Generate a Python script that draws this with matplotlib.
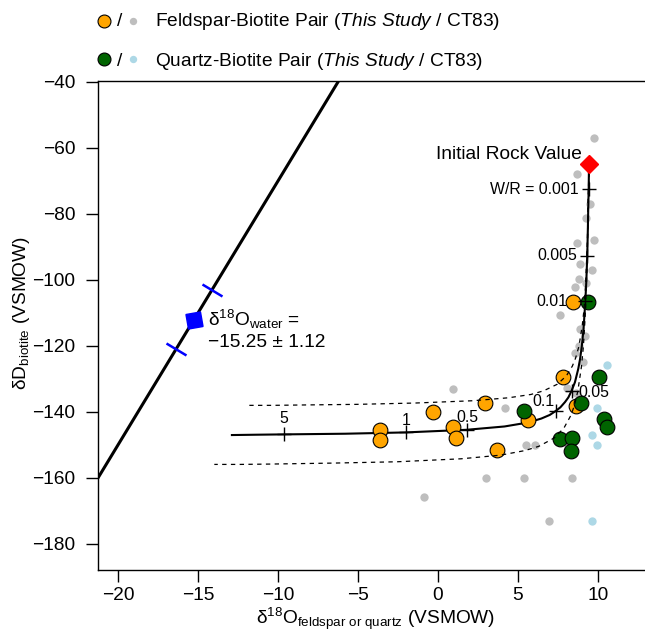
import matplotlib
matplotlib.use('Agg')
import matplotlib.pyplot as plt
from matplotlib.lines import Line2D
from matplotlib.markers import MarkerStyle
from matplotlib.transforms import Affine2D
import numpy as np

plt.rcParams['font.family'] = ['Liberation Sans', 'DejaVu Sans']
plt.rcParams['mathtext.fontset'] = 'custom'
plt.rcParams['mathtext.rm'] = 'Liberation Sans'
plt.rcParams['mathtext.it'] = 'Liberation Sans:italic'
plt.rcParams['mathtext.bf'] = 'Liberation Sans:bold'

# --- data ---
# CT83 feldspar-biotite pairs (grey)
ct_fsp_x = [9.75, 8.7, 9.5, 9.25, 8.7, 9.75, 8.85, 9.65, 8.8, 9.25, 8.55, 7.65, 8.85, 9.2,
            8.55, 9.05, 8.8, 8.05, 8.6, 0.95, 4.2, 5.5, 6.05, 3.0, 5.4, 8.35, -0.9, 6.95]
ct_fsp_d = [-57.1, -68.0, -77.1, -81.1, -88.9, -87.9, -95.2, -97.0, -99.8, -101.0, -102.0, -110.6,
            -114.8, -117.0, -122.0, -125.0, -120.0, -132.8, -134.2, -133.0, -138.9, -150.0, -150.0,
            -160.0, -160.0, -160.0, -165.8, -172.9]
# CT83 quartz-biotite pairs (light blue)
ct_qtz_x = [10.55, 9.95, 9.65, 9.95, 9.65]
ct_qtz_d = [-125.8, -138.9, -147.0, -150.0, -172.9]
# this study, feldspar-biotite (orange)
fsp_x = [-3.6, -3.6, -0.3, 2.95, 0.95, 1.1, 3.7, 5.65, 7.8, 8.65, 8.45]
fsp_d = [-145.5, -148.5, -139.9, -137.4, -144.6, -148.0, -151.6, -142.4, -129.5, -138.2, -106.6]
# this study, quartz-biotite (green)
qtz_x = [9.4, 10.05, 8.95, 5.4, 10.4, 10.55, 7.6, 8.4, 8.3]
qtz_d = [-106.6, -129.5, -137.2, -139.6, -142.2, -144.7, -148.2, -148.0, -151.8]

# initial rock value and water estimate
rock_x, rock_d = 9.44, -64.8
water_o, water_err = -15.25, 1.12
water_d, water_d_lo, water_d_hi = -112.0, -120.96, -103.04
mwl_pts = [(-20, -150), (-10, -70)]

# exchange curve (solid) and error envelope (dashed)
main_x = [9.44, 9.42, 9.39, 9.37, 9.33, 9.27, 9.21, 9.10, 8.99, 8.88, 8.77, 8.56, 8.35, 8.15,
          7.94, 7.65, 7.36, 6.99, 6.46, 5.63, 4.16, 1.81, -2.00, -5.81, -9.63, -11.36, -12.88]
main_d = [-64.8, -72.5, -78.8, -84.2, -92.7, -100.6, -106.5, -114.7, -120.1, -124.0, -126.9,
          -131.0, -133.6, -135.6, -137.0, -138.6, -139.7, -140.9, -142.0, -143.2, -144.4, -145.4,
          -146.2, -146.6, -146.8, -146.9, -147.0]
up_x = [9.44, 9.33, 9.22, 9.12, 9.01, 8.81, 8.60, 8.40, 8.02, 7.46, 6.60, 5.81, 4.42, 2.19,
        -1.44, -5.07, -8.69, -10.34, -11.79]
up_d = [-64.8, -89.7, -102.0, -109.3, -114.1, -120.1, -123.7, -126.1, -129.1, -131.6, -133.6,
        -134.7, -135.7, -136.6, -137.3, -137.7, -137.9, -138.0, -138.0]
lo_x = [9.44, 9.32, 9.20, 9.09, 8.97, 8.74, 8.52, 8.30, 7.87, 7.26, 6.31, 5.44, 3.90, 1.44,
        -2.56, -6.56, -10.56, -12.38, -13.98]
lo_d = [-64.8, -95.8, -111.1, -120.1, -126.2, -133.7, -138.2, -141.1, -144.9, -147.9, -150.4,
        -151.7, -153.1, -154.2, -155.1, -155.5, -155.8, -155.9, -155.9]

# water/rock ratio ticks along the curve
wr_labels = ['W/R = 0.001', '0.005', '0.01', '0.05', '0.1', '0.5', '1', '5']
wr_x = [9.42, 9.33, 9.21, 8.35, 7.36, 1.81, -2.0, -9.63]
wr_d = [-72.5, -92.7, -106.5, -133.6, -139.7, -145.4, -146.2, -146.8]

FS = 13.8
fig = plt.figure(figsize=(6.45, 6.32), dpi=100)
ax = fig.add_axes([98 / 645, 62 / 632, 555 / 645, 489 / 632])
ax.set_xlim(-21.25, 13.44)
ax.set_ylim(-187.9, -39.7)

ax.plot(ct_fsp_x, ct_fsp_d, ls='none', marker='o', ms=6.0, mew=0, color='#BEBEBE', zorder=2)
ax.plot(ct_qtz_x, ct_qtz_d, ls='none', marker='o', ms=6.0, mew=0, color='#ADD8E6', zorder=2)

ax.axline(mwl_pts[0], mwl_pts[1], color='black', lw=2.2, zorder=3)
ax.plot(main_x, main_d, color='black', lw=1.5, zorder=3)
ax.plot(up_x, up_d, color='black', lw=0.9, ls=(0, (3.5, 3.5)), zorder=5)
ax.plot(lo_x, lo_d, color='black', lw=0.9, ls=(0, (3.5, 3.5)), zorder=5)

ax.plot(fsp_x, fsp_d, ls='none', marker='o', ms=10.6, mfc='#FFA500', mec='black', mew=0.8, zorder=4)
ax.plot(qtz_x, qtz_d, ls='none', marker='o', ms=10.6, mfc='#006400', mec='black', mew=0.8, zorder=4)

ax.plot(wr_x, wr_d, ls='none', marker='+', ms=9.5, mew=1.0, color='black', zorder=6)
wr_offsets = [(-7.5, 0, 'right', 'center'), (-7.5, 0, 'right', 'center'),
              (-13, 0, 'right', 'center'), (5, -1, 'left', 'center'),
              (-8.5, 7, 'center', 'center'), (0, 5.5, 'center', 'baseline'),
              (0, 5.5, 'center', 'baseline'), (0, 8, 'center', 'baseline')]
for lab, x, y, (dx, dy, ha, va) in zip(wr_labels, wr_x, wr_d, wr_offsets):
    ax.annotate(lab, (x, y), xytext=(dx, dy), textcoords='offset points',
                ha=ha, va=va, fontsize=11.4, zorder=7)

ax.plot([rock_x], [rock_d], ls='none', marker='D', ms=9.5, color='red', zorder=8)
ax.annotate('Initial Rock Value', (rock_x, rock_d), xytext=(-5, 3.4),
            textcoords='offset points', ha='right', va='baseline', fontsize=FS)

# water estimate on the meteoric water line
p1 = ax.transData.transform(mwl_pts[0])
p2 = ax.transData.transform(mwl_pts[1])
ang = np.degrees(np.arctan2(p2[1] - p1[1], p2[0] - p1[0]))
tick = MarkerStyle('_', transform=Affine2D().rotate_deg(ang - 90))
ax.plot([water_o - water_err, water_o + water_err], [water_d_lo, water_d_hi], ls='none',
        marker=tick, ms=17, mew=1.8, color='blue', zorder=6)
ax.plot([water_o], [water_d], ls='none', marker=(4, 0, -35), ms=15, color='blue', zorder=6)
ax.annotate('δ$^{18}$O$_{\\mathrm{water}}$ =', (water_o, water_d), xytext=(10, -4.3),
            textcoords='offset points', ha='left', va='baseline', fontsize=FS)
ax.annotate('\u221215.25 \u00b1 1.12', (water_o, water_d), xytext=(10, -20),
            textcoords='offset points', ha='left', va='baseline', fontsize=FS)

ax.set_xticks([-20, -15, -10, -5, 0, 5, 10])
ax.set_yticks(np.arange(-180, -39, 20))
ax.tick_params(direction='out', length=8.3, width=1.0, labelsize=FS)
ax.tick_params(axis='x', pad=4)
ax.tick_params(axis='y', pad=8)
for s in ax.spines.values():
    s.set_linewidth(1.0)

ax.set_xlabel('δ$^{18}$O$_{\\mathrm{feldspar\\ or\\ quartz}}$ (VSMOW)', fontsize=FS)
ax.set_ylabel('δD$_{\\mathrm{biotite}}$ (VSMOW)', fontsize=FS)
ax.xaxis.set_label_coords((375.6 - 98) / 555, -(624 - 570) / 489)
ax.xaxis.label.set_va('baseline')
ax.yaxis.set_label_coords((21 - 98) / 555, (570 - 313) / 489)
ax.yaxis.label.set_va('center')

# legend drawn above the axes
rows = [('#FFA500', '#BEBEBE', 'Feldspar-Biotite Pair ($\\it{This\\ Study}$ / CT83)'),
        ('#006400', '#ADD8E6', 'Quartz-Biotite Pair ($\\it{This\\ Study}$ / CT83)')]
for (big, small, text), ym, yb in zip(rows, [20.7, 59.3], [26.5, 65.5]):
    yf = 1 - ym / 632
    fig.add_artist(Line2D([104.3 / 645], [yf], transform=fig.transFigure, ls='none', marker='o',
                          ms=9.3, mfc=big, mec='black', mew=0.8))
    fig.add_artist(Line2D([133 / 645], [yf], transform=fig.transFigure, ls='none', marker='o',
                          ms=5.3, mew=0, color=small))
    fig.text(119.5 / 645, 1 - yb / 632, '/', ha='center', va='baseline', fontsize=FS)
    fig.text(155 / 645, 1 - yb / 632, text, ha='left', va='baseline', fontsize=FS)

fig.savefig('out.png', dpi=100)
